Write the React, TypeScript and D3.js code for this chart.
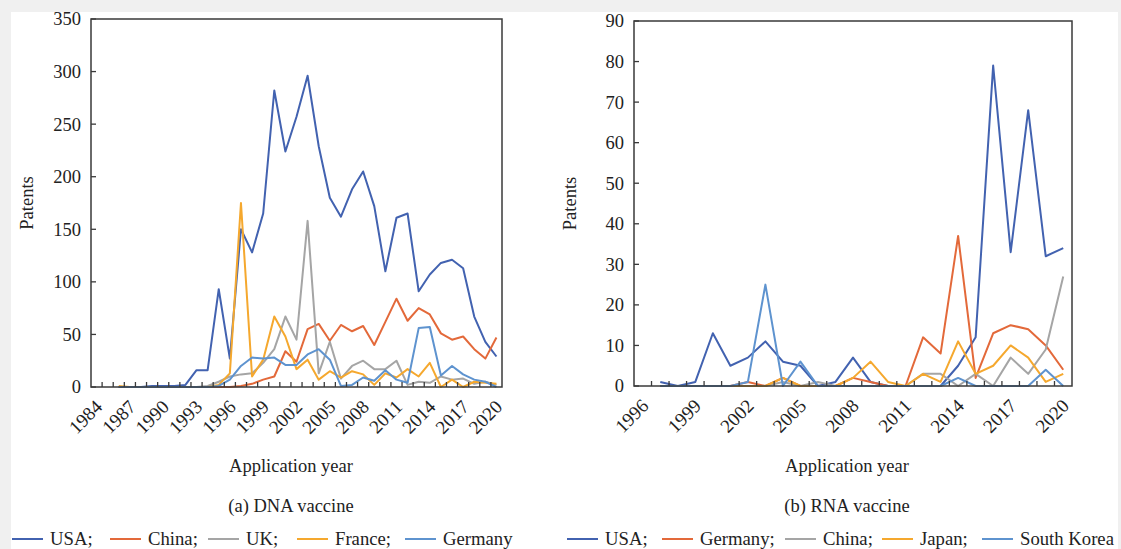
import React from 'react';
import * as d3 from 'd3';

// DNA vaccine (a)
const dnaYears = d3.range(1984, 2021);
const dnaTickLabels = ['1984', '1987', '1990', '1993', '1996', '1999', '2002', '2005', '2008', '2011', '2014', '2017', '2020'];
const dnaYTicks = [0, 50, 100, 150, 200, 250, 300, 350];
const dnaNames = ['USA', 'China', 'UK', 'France', 'Germany'];
// values from 1986 onward; 1984 and 1985 have no point
const dnaUSA = [null, null, 0, 0, 0, 1, 1, 1, 2, 16, 16, 93, 27, 150, 128, 165, 282, 224, 257, 296, 229, 180, 162, 188, 205, 172, 110, 161, 165, 91, 107, 118, 121, 113, 67, 43, 29];
const dnaChina = [null, null, 0, 0, 0, 0, 0, 0, 0, 0, 0, 0, 0, 1, 3, 7, 10, 34, 24, 55, 60, 44, 59, 53, 58, 40, 62, 84, 63, 75, 69, 51, 45, 48, 36, 27, 47];
const dnaUK = [null, null, 0, 0, 0, 0, 0, 0, 0, 0, 1, 5, 10, 12, 13, 23, 36, 67, 45, 158, 13, 43, 8, 20, 25, 17, 17, 25, 2, 5, 4, 10, 7, 8, 3, 5, 2];
const dnaFrance = [null, null, 1, 0, 0, 0, 0, 0, 0, 0, 0, 2, 13, 175, 10, 26, 67, 48, 17, 26, 7, 15, 9, 15, 12, 2, 13, 9, 17, 10, 23, 0, 7, 0, 5, 4, 3];
const dnaGermany = [null, null, 0, 0, 0, 0, 0, 0, 0, 0, 0, 1, 7, 20, 28, 27, 28, 21, 21, 31, 36, 26, 1, 2, 9, 6, 16, 7, 4, 56, 57, 11, 20, 12, 7, 5, 0];

// RNA vaccine (b)
const rnaYears = d3.range(1996, 2021);
const rnaTickLabels = ['1996', '1999', '2002', '2005', '2008', '2011', '2014', '2017', '2020'];
const rnaYTicks = [0, 10, 20, 30, 40, 50, 60, 70, 80, 90];
const rnaNames = ['USA', 'Germany', 'China', 'Japan', 'South Korea'];
const rnaUSA = [null, 1, 0, 1, 13, 5, 7, 11, 6, 5, 0, 1, 7, 1, 0, 0, 0, 0, 5, 12, 79, 33, 68, 32, 34];
const rnaGermany = [null, 0, 0, 0, 0, 0, 1, 0, 2, 0, 0, 0, 2, 1, 0, 0, 12, 8, 37, 2, 13, 15, 14, 10, 4];
const rnaChina = [null, 0, 0, 0, 0, 0, 0, 0, 1, 0, 1, 0, 0, 0, 0, 0, 3, 3, 0, 3, 0, 7, 3, 9, 27];
const rnaJapan = [null, 0, 0, 0, 0, 0, 0, 0, 2, 0, 0, 0, 2, 6, 1, 0, 3, 1, 11, 3, 5, 10, 7, 1, 3];
const rnaKorea = [null, 0, 0, 0, 0, 0, 1, 25, 0, 6, 0, 0, 0, 0, 0, 0, 0, 0, 2, 0, 0, 0, 0, 4, 0];

const colors = ['#4262b0', '#e3693a', '#a5a5a5', '#f5a82e', '#5e93cf'];
const font = '"Liberation Serif", "Times New Roman", serif';

type PanelProps = {
  years: number[];
  series: (number | null)[][];
  names: string[];
  tickLabels: string[];
  yTicks: number[];
  box: [number, number, number, number];
  titleX: number;
  caption: string;
  legendX: number[];
};

const Panel = ({ years, series, names, tickLabels, yTicks, box, titleX, caption, legendX }: PanelProps) => {
  const [x0, y0, x1, y1] = box;
  const x = d3.scaleBand<number>().domain(years).range([x0, x1]);
  const y = d3.scaleLinear().domain([0, d3.max(yTicks) as number]).range([y1, y0]);
  const cx = (yr: number) => (x(yr) as number) + x.bandwidth() / 2;

  const line = d3
    .line<number | null>()
    .defined((d) => d !== null)
    .x((d, i) => cx(years[i]))
    .y((d) => y(d as number));

  return (
    <g>
      {series.map((s, i) => (
        <path key={names[i]} d={line(s) || ''} fill="none" stroke={colors[i]} strokeWidth={2} strokeLinejoin="round" />
      ))}
      <rect x={x0} y={y0} width={x1 - x0} height={y1 - y0} fill="none" stroke="#3a3a3a" strokeWidth={1.5} />
      {years.slice(1).map((yr) => (
        <line key={yr} x1={x(yr)} x2={x(yr)} y1={y1} y2={y1 - 5} stroke="#3a3a3a" strokeWidth={1.3} />
      ))}
      {yTicks.map((t) => (
        <g key={t}>
          <line x1={x0} x2={x0 + 5} y1={y(t)} y2={y(t)} stroke="#3a3a3a" strokeWidth={1.3} />
          <text x={x0 - 10} y={y(t)} dy="0.35em" textAnchor="end" fontSize={18.5} fill="#222">
            {t}
          </text>
        </g>
      ))}
      {tickLabels.map((lab) => {
        const px = cx(+lab) + 7;
        const py = y1 + 21;
        return (
          <text key={lab} x={px} y={py} textAnchor="end" fontSize={19} fill="#222" transform={`rotate(-45 ${px} ${py})`}>
            {lab}
          </text>
        );
      })}
      <text
        transform={`translate(${x0 - 58},${(y0 + y1) / 2}) rotate(-90)`}
        textAnchor="middle"
        fontSize={18.5}
        fill="#222"
      >
        Patents
      </text>
      <text x={titleX} y={472} textAnchor="middle" fontSize={18.5} fill="#222">
        Application year
      </text>
      <text x={titleX} y={512} textAnchor="middle" fontSize={18.5} fill="#222">
        {caption}
      </text>
      {names.map((n, i) => (
        <g key={n}>
          <line x1={legendX[i]} x2={legendX[i] + 31} y1={539} y2={539} stroke={colors[i]} strokeWidth={2} />
          <text x={legendX[i] + 38} y={544.5} fontSize={18.7} fill="#222">
            {i < names.length - 1 ? `${n};` : n}
          </text>
        </g>
      ))}
    </g>
  );
};

const App = () => (
  <svg
    width={1121}
    height={549}
    style={{ position: 'absolute', left: 0, top: 0, fontFamily: font }}
  >
    <rect width={1121} height={549} fill="#f0f0f0" />
    <rect x={11} y={12} width={1107} height={537} fill="#ffffff" />
    <Panel
      years={dnaYears}
      series={[dnaUSA, dnaChina, dnaUK, dnaFrance, dnaGermany]}
      names={dnaNames}
      tickLabels={dnaTickLabels}
      yTicks={dnaYTicks}
      box={[91, 19, 502, 387]}
      titleX={291}
      caption="(a) DNA vaccine"
      legendX={[12, 110, 208, 297, 405]}
    />
    <Panel
      years={rnaYears}
      series={[rnaUSA, rnaGermany, rnaChina, rnaJapan, rnaKorea]}
      names={rnaNames}
      tickLabels={rnaTickLabels}
      yTicks={rnaYTicks}
      box={[634, 21, 1072, 386]}
      titleX={847}
      caption="(b) RNA vaccine"
      legendX={[567, 662, 785, 882, 982]}
    />
  </svg>
);

export default App;
